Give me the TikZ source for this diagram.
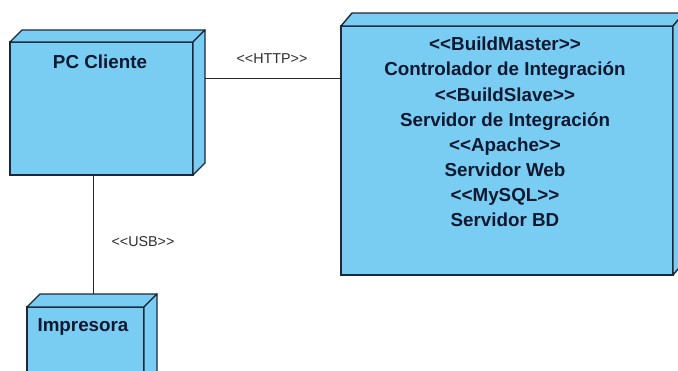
\documentclass[tikz,border=0pt]{standalone}
\usepackage{fontspec}
\setmainfont{Liberation Sans}[Ligatures=TeXOff]
\usetikzlibrary{calc}
\definecolor{nodefill}{RGB}{122,205,242}
\definecolor{nodeline}{RGB}{28,40,58}
\definecolor{nodetext}{RGB}{14,24,48}
\definecolor{labeltext}{RGB}{45,45,50}
\tikzset{
  front/.style={draw=nodeline, fill=nodefill, line width=1.4pt, inner sep=0pt, outer sep=0pt},
  face/.style={draw=nodeline, fill=nodefill, line width=1.4pt, line join=round},
  conn/.style={draw=black!85, line width=1pt},
  title/.style={text=nodetext, font=\fontsize{18.8}{25.1}\selectfont\bfseries, align=center, inner sep=0pt},
  lbl/.style={text=labeltext, font=\fontsize{14.3}{16}\selectfont, inner sep=0pt}
}
\begin{document}
\begin{tikzpicture}[x=1pt, y=-1pt]
\useasboundingbox (0,0) rectangle (678,370);
\clip (0,0) rectangle (678,370);
% PC Cliente
\node[front, minimum width=183pt, minimum height=133pt] (pc) at (101.5,108.5) {};
\draw[face] (pc.north west) -- ++(12,-12) -- ($(pc.north east)+(12,-12)$) -- (pc.north east) -- cycle;
\draw[face] (pc.north east) -- ($(pc.north east)+(12,-12)$) -- ($(pc.south east)+(12,-12)$) -- (pc.south east) -- cycle;
\node[title] (pct) at (100,62) {PC Cliente};
% Servidor
\node[front, minimum width=332pt, minimum height=249pt] (srv) at (507,150.5) {};
\draw[face] (srv.north west) -- ++(11,-13) -- ($(srv.north east)+(11,-13)$) -- (srv.north east) -- cycle;
\draw[face] (srv.north east) -- ($(srv.north east)+(11,-13)$) -- ($(srv.south east)+(11,-13)$) -- (srv.south east) -- cycle;
\node[title] (srvt) at (505,132) {<<BuildMaster>>\\Controlador de Integración\\<<BuildSlave>>\\Servidor de Integración\\<<Apache>>\\Servidor Web\\<<MySQL>>\\Servidor BD};
% Impresora
\node[front, minimum width=117pt, minimum height=103pt] (imp) at (85.5,358.5) {};
\draw[face] (imp.north west) -- ++(13,-13) -- ($(imp.north east)+(13,-13)$) -- (imp.north east) -- cycle;
\draw[face] (imp.north east) -- ($(imp.north east)+(13,-13)$) -- ($(imp.south east)+(13,-13)$) -- (imp.south east) -- cycle;
\node[title] (impt) at (83,327) {Impresora};
% connectors
\coordinate (pcR) at ($(pc.north east)+(12,36)$);
\draw[conn] (pcR) -- (pcR -| srv.west);
\node[lbl] (http) at (272,59) {<<HTTP>>};
\coordinate (pcB) at ($(pc.south west)+(83,0)$);
\coordinate (impTop) at ($(imp.north west)+(13,-13)$);
\draw[conn] (pcB) -- (pcB |- impTop);
\node[lbl] (usb) at (143,242) {<<USB>>};
\end{tikzpicture}
\end{document}
